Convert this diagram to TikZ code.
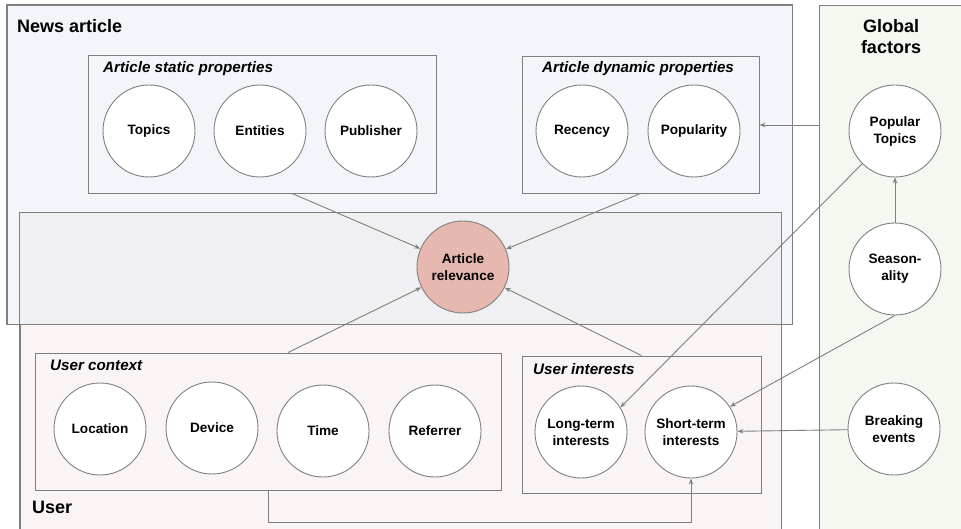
\documentclass[tikz,border=0pt]{standalone}
\usepackage{fontspec}
\setmainfont{Liberation Sans}
\usetikzlibrary{arrows.meta}
\definecolor{newsfill}{HTML}{F2F6FA}
\definecolor{userfill}{HTML}{FAF4F4}
\definecolor{overlapfill}{HTML}{F0EFF2}
\definecolor{globalfill}{HTML}{F3F8F1}
\definecolor{relfill}{HTML}{E6B8AF}
\definecolor{linegray}{HTML}{7F7F7F}
\definecolor{circgray}{HTML}{808080}
\newcommand{\myCircFont}{\fontsize{13.6}{17}\selectfont\bfseries}
\newcommand{\myTitleFont}{\fontsize{18}{20}\selectfont\bfseries}
\newcommand{\mySubFont}{\fontsize{15.2}{18}\selectfont\bfseries\itshape}
\begin{document}
\begin{tikzpicture}[x=1pt,y=-1pt,
  bigbox/.style={rectangle, inner sep=0pt, draw=linegray, line width=0.9pt},
  grpbox/.style={rectangle, inner sep=0pt, draw=linegray, line width=0.9pt},
  circ/.style={circle, draw=circgray, line width=0.9pt, fill=white, minimum size=92pt, inner sep=0pt, align=center, font=\myCircFont},
  arr/.style={draw=linegray, line width=0.9pt, -{Stealth[length=6pt,width=4.5pt]}},
  ttl/.style={anchor=base west, inner sep=0pt, font=\myTitleFont},
  sub/.style={anchor=base west, inner sep=0pt, font=\mySubFont}]
\useasboundingbox (0,0) rectangle (961,529);
\clip (0,0) rectangle (961,529);
% big regions
\node[bigbox, fill=newsfill, minimum width=785pt, minimum height=319pt] (news) at (399.5,164.5) {};
\node[bigbox, fill=userfill, minimum width=761pt, minimum height=327pt] (user) at (400.5,376.5) {};
\node[bigbox, fill=globalfill, minimum width=160pt, minimum height=545pt] (global) at (899,277.5) {};
\fill[overlapfill] (user.north west) rectangle (news.south -| user.east);
\draw[linegray, line width=0.9pt] (news.south west) rectangle (news.north east);
\draw[linegray, line width=0.9pt] (user.south west) rectangle (user.north east);
% group boxes
\node[grpbox, minimum width=348pt, minimum height=138pt] (static) at (262,124) {};
\node[grpbox, minimum width=237pt, minimum height=137pt] (dynamic) at (640.5,124.5) {};
\node[grpbox, minimum width=466pt, minimum height=137pt] (context) at (268,421.5) {};
\node[grpbox, minimum width=239pt, minimum height=137pt] (interests) at (641.5,424.5) {};
% titles
\node[ttl] (tnews) at (17,33) {News article};
\node[anchor=base, inner sep=0pt, font=\myTitleFont] (tglobal1) at (891,33) {Global};
\node[anchor=base, inner sep=0pt, font=\myTitleFont] (tglobal2) at (891,54) {factors};
\node[ttl] (tuser) at (32,513) {User};
\node[sub] (tstatic) at (103,73) {Article static properties};
\node[sub] (tdynamic) at (542,73) {Article dynamic properties};
\node[sub] (tcontext) at (50,370) {User context};
\node[sub] (tinterests) at (533,374) {User interests};
% circles
\node[circ] (topics) at (149,131) {Topics};
\node[circ] (entities) at (260,131) {Entities};
\node[circ] (publisher) at (371,131) {Publisher};
\node[circ] (recency) at (582,131) {Recency};
\node[circ] (popularity) at (694,131) {Popularity};
\node[circ] (poptopics) at (895,131) {Popular\\Topics};
\node[circ, fill=relfill] (rel) at (463,267) {Article\\relevance};
\node[circ] (season) at (895,269) {Season-\\ality};
\node[circ] (breaking) at (894,429) {Breaking\\events};
\node[circ] (location) at (100,429) {Location};
\node[circ] (device) at (212,428) {Device};
\node[circ] (time) at (323,431) {Time};
\node[circ] (referrer) at (435,431) {Referrer};
\node[circ] (longterm) at (581,432) {Long-term\\interests};
\node[circ] (shortterm) at (691,432) {Short-term\\interests};
% connectors
\draw[arr] ([xshift=30pt]static.south) -- (rel);
\draw[arr] (dynamic.south) -- (rel);
\draw[arr] ([xshift=20pt]context.north) -- (rel);
\draw[arr] (interests.north) -- (rel);
\coordinate (gleft) at (global.west |- 0,125);
\draw[arr] (gleft) -- (gleft -| dynamic.east);
\draw[arr] (season.north) -- (poptopics.south);
\draw[arr] (poptopics.225) -- (longterm.32);
\draw[arr] (season.south) -- (shortterm.33);
\draw[arr] (breaking) -- (shortterm);
\draw[arr] (context.south) -- ++(0,32) -| (shortterm.south);
\end{tikzpicture}
\end{document}
